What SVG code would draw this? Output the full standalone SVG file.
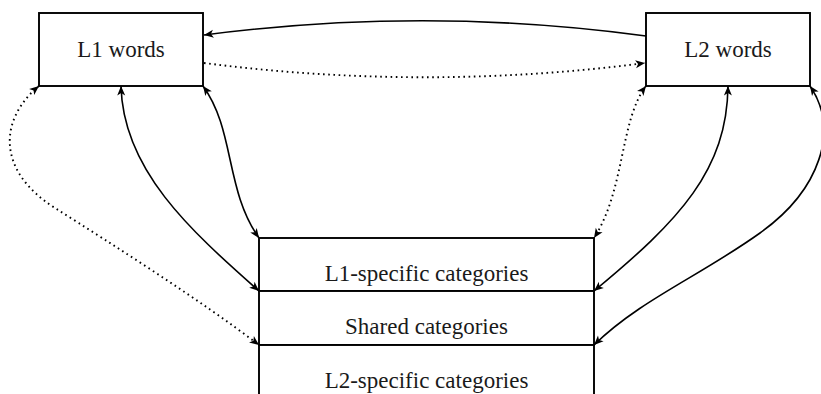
<svg xmlns="http://www.w3.org/2000/svg" width="821" height="394" viewBox="0 0 821 394">
<style>
.box{fill:#fff;stroke:#000;stroke-width:1.9}
.lbl{font-family:"Liberation Serif","Times New Roman",serif;font-size:23px;fill:#1a1a1a;text-anchor:middle}
.c{fill:none;stroke:#000;stroke-width:1.6}
.d{stroke-width:1.9;stroke-dasharray:1.6 3.6;stroke-linecap:butt}
</style>
<defs>
<marker id="ah" viewBox="-10 -5 12 10" refX="0" refY="0" markerWidth="12" markerHeight="10" markerUnits="userSpaceOnUse" orient="auto-start-reverse">
<path d="M0,0 L-9.5,-4 L-7,0 L-9.5,4 Z" fill="#000"/>
</marker>
</defs>
<g id="n-l1words"><rect class="box" x="39" y="13" width="164" height="73"/><text class="lbl" x="121" y="57">L1 words</text></g>
<g id="n-l2words"><rect class="box" x="646" y="13" width="164" height="73"/><text class="lbl" x="728" y="57">L2 words</text></g>
<g id="n-l1spec"><rect class="box" x="259" y="238" width="335" height="53"/><text class="lbl" x="426.5" y="281">L1-specific categories</text></g>
<g id="n-shared"><rect class="box" x="259" y="291" width="335" height="54"/><text class="lbl" x="426.5" y="334">Shared categories</text></g>
<g id="n-l2spec"><rect class="box" x="259" y="345" width="335" height="60"/><text class="lbl" x="426.5" y="388">L2-specific categories</text></g>
<g id="connectors">
<path class="c" d="M646,36 C 500,16 350,16 204,35" marker-end="url(#ah)"/>
<path class="c d" d="M204,63 C 350,82 500,82 645,63" marker-end="url(#ah)"/>
<path class="c d" d="M39,86 C 0,118 -5,170 55,208 C 115,246 200,300 259,345" marker-start="url(#ah)" marker-end="url(#ah)"/>
<path class="c" d="M121,86 C 123,170 190,230 259,291" marker-start="url(#ah)" marker-end="url(#ah)"/>
<path class="c" d="M203,86 C 235,130 225,190 259,238" marker-start="url(#ah)" marker-end="url(#ah)"/>
<path class="c d" d="M646,86 C 620,120 625,190 594,238" marker-start="url(#ah)" marker-end="url(#ah)"/>
<path class="c" d="M728,86 C 727,170 680,220 594,291" marker-start="url(#ah)" marker-end="url(#ah)"/>
<path class="c" d="M810,86 C 840,130 820,190 760,233 C 700,276 640,300 594,345" marker-start="url(#ah)" marker-end="url(#ah)"/>
</g>
</svg>
